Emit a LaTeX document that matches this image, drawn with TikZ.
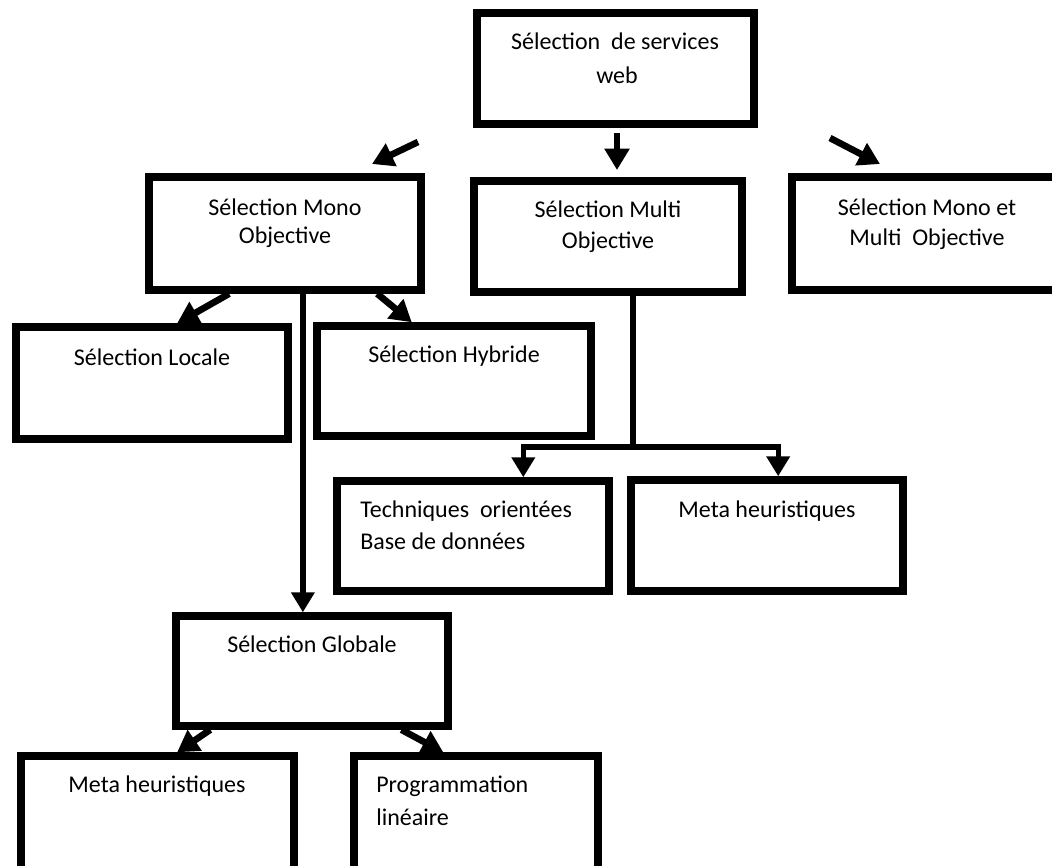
\documentclass[tikz,border=0pt]{standalone}
\usepackage{fontspec}
\setmainfont{Carlito}
\usetikzlibrary{arrows.meta,fit,calc}
\begin{document}
\begin{tikzpicture}[x=0.75pt,y=-0.75pt,
  box/.style={draw=black, line width=5.6pt, inner sep=0pt},
  lbl/.style={inner sep=0pt, font=\fontsize{18}{22}\selectfont, anchor=base},
  lbll/.style={lbl, anchor=base west},
  arr/.style={line width=5pt, -{Triangle[length=16pt,width=18pt]}},
  arrthin/.style={line width=4pt, -{Triangle[length=15pt,width=17pt]}},
  link/.style={line width=4.5pt},
]
\useasboundingbox (0,0) rectangle (1052,865);
\clip (0,0) rectangle (1052,865);
\fill[white] (0,0) rectangle (1052,865);

% boxes (stroke centre lines)
\node[box, fit={(477,13) (754,124)}]   (b0) {};
\node[box, fit={(149,177) (421,290)}]  (b1) {};
\node[box, fit={(474,181) (742,292)}]  (b2) {};
\node[box, fit={(792,177) (1070,290)}] (b3) {};
\node[box, fit={(16,327) (288,439)}]   (b4) {};
\node[box, fit={(317,326) (591,436)}]  (b5) {};
\node[box, fit={(337,481) (609,591)}]  (b6) {};
\node[box, fit={(631,480) (903,591)}]  (b7) {};
\node[box, fit={(176,616) (448,726)}]  (b8) {};
\node[box, fit={(21,756) (294,900)}]   (b9) {};
\node[box, fit={(354,756) (598,900)}]  (b10) {};

% labels
\node[lbl] (b0t1) at (615,49) {Sélection~ de services};
\node[lbl] (b0t2) at (617,83) {web};
\node[lbl] (b1t1) at (285,215) {Sélection Mono};
\node[lbl] (b1t2) at (285,243) {Objective};
\node[lbl] (b2t1) at (608,217) {Sélection Multi};
\node[lbl] (b2t2) at (608,248) {Objective};
\node[lbl] (b3t1) at (927,215) {Sélection Mono et};
\node[lbl] (b3t2) at (927,245) {Multi~ Objective};
\node[lbl] (b4t1) at (152,365) {Sélection Locale};
\node[lbl] (b5t1) at (454,362) {Sélection Hybride};
\node[lbll] (b6t1) at (360,517) {Techniques~ orientées};
\node[lbll] (b6t2) at (360,549) {Base de données};
\node[lbl] (b7t1) at (767,517) {Meta heuristiques};
\node[lbl] (b8t1) at (312,652) {Sélection Globale};
\node[lbl] (b9t1) at (157,792) {Meta heuristiques};
\node[lbll] (b10t1) at (376,792) {Programmation};
\node[lbll] (b10t2) at (376,825) {linéaire};

% free-standing arrows below the root
\coordinate (f1s) at (418,142); \coordinate (f1e) at (372,164);
\coordinate (f2s) at (617,133); \coordinate (f2e) at (617,170);
\coordinate (f3s) at (830,138); \coordinate (f3e) at (880,164);
\draw[arr] (f1s) -- (f1e);
\draw[arr] (f2s) -- (f2e);
\draw[arr] (f3s) -- (f3e);

% mono objective branches
\draw[arr] ($(b1.south west)!0.30!(b1.south east)$) -- ($(b4.north west)!0.59!(b4.north east)$);
\draw[arr] ($(b1.south west)!0.83!(b1.south east)$) -- ($(b5.north west)!0.35!(b5.north east)$);
\coordinate (m) at ($(b1.south west)!0.564!(b1.south east)$);
\draw[arrthin] (m) -- (m |- b8.north);

% multi objective branches
\coordinate (s2) at ($(b2.south west)!0.59!(b2.south east)$);
\coordinate (bus) at (s2 |- 0,447);
\coordinate (t6) at ($(b6.north west)!0.68!(b6.north east)$);
\coordinate (t7) at ($(b7.north west)!0.54!(b7.north east)$);
\draw[link] (s2) -- (bus);
\draw[arrthin] (bus) -| (t6);
\draw[arrthin] (bus) -| (t7);

% global selection branches
\draw[arr] ($(b8.south west)!0.136!(b8.south east)$) -- ($(b9.north west)!0.57!(b9.north east)$);
\draw[arr] ($(b8.south west)!0.82!(b8.south east)$) -- ($(b10.north west)!0.37!(b10.north east)$);
\end{tikzpicture}
\end{document}
